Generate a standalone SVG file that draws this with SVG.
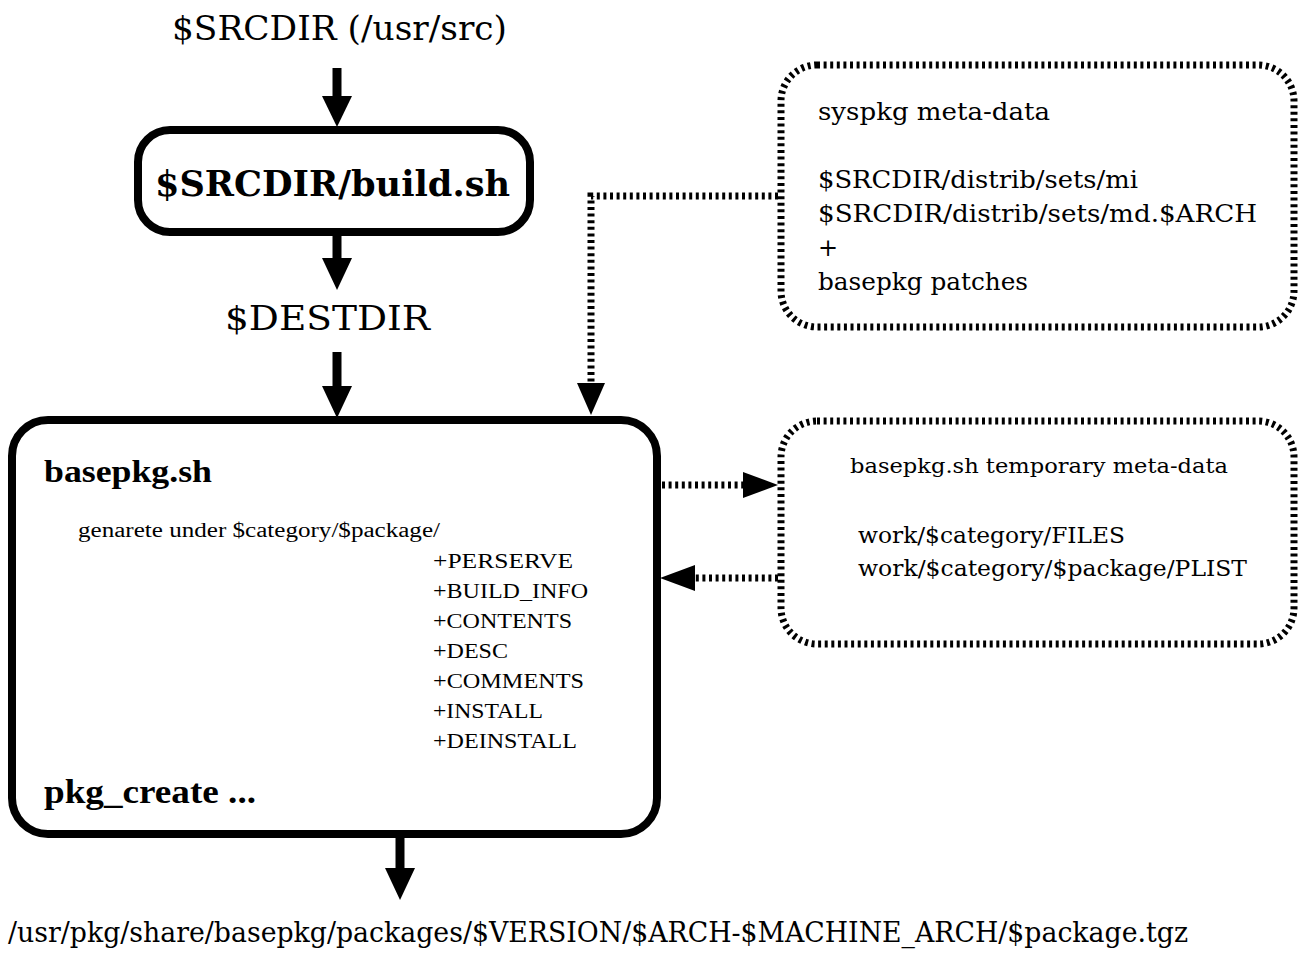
<svg xmlns="http://www.w3.org/2000/svg" width="1306" height="965" viewBox="0 0 1306 965">
<style>
text{font-family:"DejaVu Serif","Liberation Serif",serif;fill:#000}
.b{font-weight:bold}
.t{font-family:"Liberation Serif","DejaVu Serif",serif}
.solid{fill:#fff;stroke:#000;stroke-width:8}
.dot{fill:#fff;stroke:#000;stroke-width:7;stroke-dasharray:3 3.6}
.shaft{stroke:#000;stroke-width:9;fill:none}
.dline{stroke:#000;stroke-width:7;stroke-dasharray:3 3.6;fill:none}
.head{fill:#000}
</style>
<rect width="1306" height="965" fill="#fff"/>
<g id="connectors">
<line class="shaft" x1="337" y1="68" x2="337" y2="100"/>
<polygon class="head" points="322,96 352,96 337,127"/>
<line class="shaft" x1="337" y1="232" x2="337" y2="262"/>
<polygon class="head" points="322,258 352,258 337,290"/>
<line class="shaft" x1="337" y1="352" x2="337" y2="390"/>
<polygon class="head" points="322,386 352,386 337,418"/>
<line class="shaft" x1="400" y1="838" x2="400" y2="872"/>
<polygon class="head" points="385,868 415,868 400,900"/>
<polyline class="dline" points="778,196 591,196 591,386"/>
<polygon class="head" points="577,383 605,383 591,415"/>
<line class="dline" x1="662" y1="485" x2="746" y2="485"/>
<polygon class="head" points="743,472 743,498 778,485"/>
<line class="dline" x1="778" y1="578" x2="692" y2="578"/>
<polygon class="head" points="695,565 695,591 660,578"/>
</g>
<g id="srcdir">
<text x="172" y="40" font-size="34" textLength="335" lengthAdjust="spacingAndGlyphs">$SRCDIR (/usr/src)</text>
</g>
<g id="build">
<rect class="solid" x="138" y="130" width="392" height="102" rx="32"/>
<text class="b" x="155" y="196" font-size="36" textLength="355" lengthAdjust="spacingAndGlyphs">$SRCDIR/build.sh</text>
</g>
<g id="destdir">
<text x="225" y="330" font-size="34" textLength="205" lengthAdjust="spacingAndGlyphs">$DESTDIR</text>
</g>
<g id="basepkg">
<rect class="solid" x="12" y="420" width="645" height="414" rx="36"/>
<text class="b t" x="44" y="482" font-size="31" textLength="168" lengthAdjust="spacingAndGlyphs">basepkg.sh</text>
<text class="t" x="78" y="537" font-size="20" textLength="362" lengthAdjust="spacingAndGlyphs">genarete under $category/$package/</text>
<text class="t" x="433" y="568" font-size="22" textLength="140" lengthAdjust="spacingAndGlyphs">+PERSERVE</text>
<text class="t" x="433" y="598" font-size="22" textLength="155" lengthAdjust="spacingAndGlyphs">+BUILD_INFO</text>
<text class="t" x="433" y="628" font-size="22" textLength="139" lengthAdjust="spacingAndGlyphs">+CONTENTS</text>
<text class="t" x="433" y="658" font-size="22" textLength="75" lengthAdjust="spacingAndGlyphs">+DESC</text>
<text class="t" x="433" y="688" font-size="22" textLength="151" lengthAdjust="spacingAndGlyphs">+COMMENTS</text>
<text class="t" x="433" y="718" font-size="22" textLength="110" lengthAdjust="spacingAndGlyphs">+INSTALL</text>
<text class="t" x="433" y="748" font-size="22" textLength="144" lengthAdjust="spacingAndGlyphs">+DEINSTALL</text>
<text class="b t" x="44" y="803" font-size="33" textLength="212" lengthAdjust="spacingAndGlyphs">pkg_create ...</text>
</g>
<g id="syspkg">
<rect class="dot" x="781" y="65" width="513" height="262" rx="36"/>
<text x="818" y="120" font-size="24" textLength="232" lengthAdjust="spacingAndGlyphs">syspkg meta-data</text>
<text x="818" y="188" font-size="24" textLength="320" lengthAdjust="spacingAndGlyphs">$SRCDIR/distrib/sets/mi</text>
<text x="818" y="222" font-size="24" textLength="439" lengthAdjust="spacingAndGlyphs">$SRCDIR/distrib/sets/md.$ARCH</text>
<text x="818" y="256" font-size="24">+</text>
<text x="818" y="290" font-size="24" textLength="210" lengthAdjust="spacingAndGlyphs">basepkg patches</text>
</g>
<g id="tempmeta">
<rect class="dot" x="781" y="421" width="513" height="223" rx="36"/>
<text x="850" y="473" font-size="21" textLength="378" lengthAdjust="spacingAndGlyphs">basepkg.sh temporary meta-data</text>
<text x="858" y="543" font-size="22" textLength="267" lengthAdjust="spacingAndGlyphs">work/$category/FILES</text>
<text x="858" y="576" font-size="22" textLength="389" lengthAdjust="spacingAndGlyphs">work/$category/$package/PLIST</text>
</g>
<g id="output">
<text x="8" y="942" font-size="27" textLength="1180" lengthAdjust="spacingAndGlyphs">/usr/pkg/share/basepkg/packages/$VERSION/$ARCH-$MACHINE_ARCH/$package.tgz</text>
</g>
</svg>
